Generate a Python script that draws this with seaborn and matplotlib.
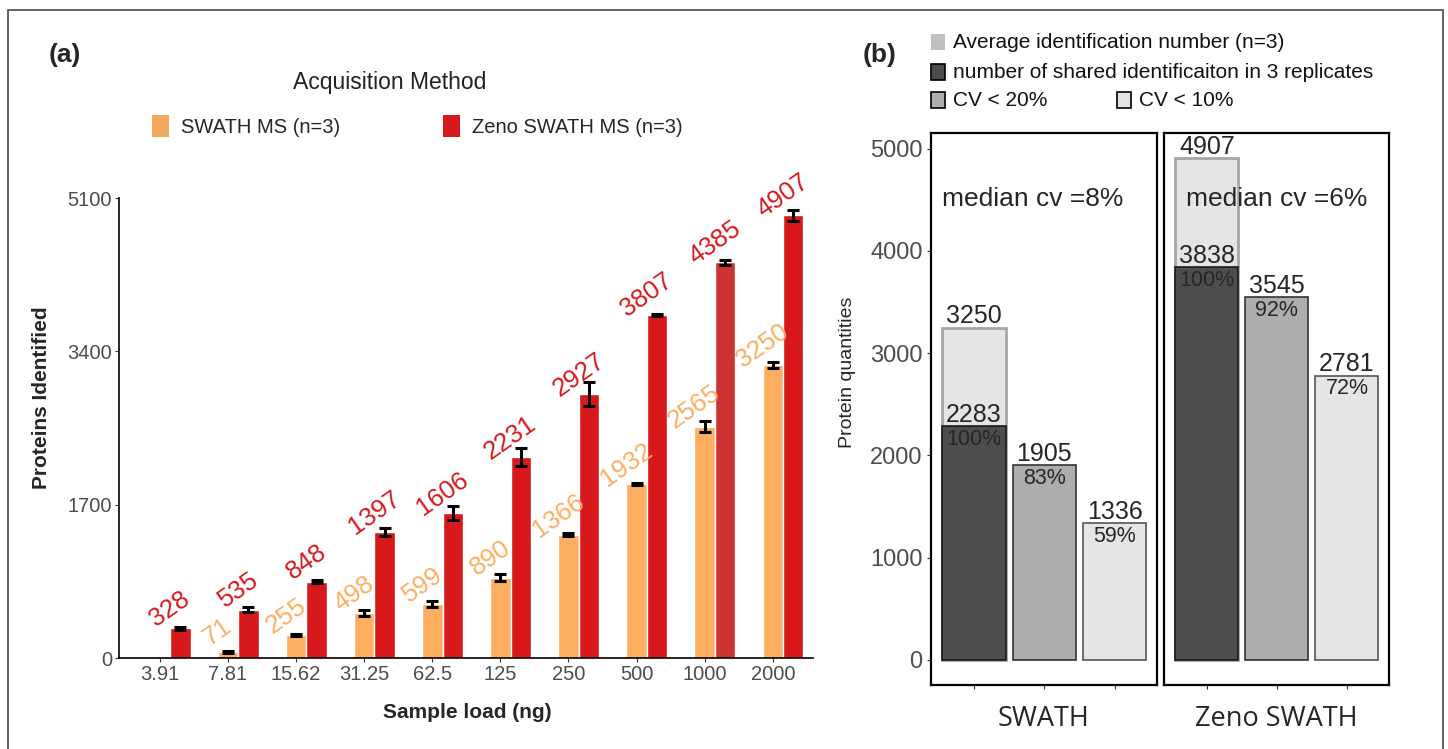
import pandas as pd
import numpy as np

import matplotlib
matplotlib.use("Agg")
import matplotlib.pyplot as plt
from matplotlib.patches import Rectangle, Patch
import seaborn as sns

sns.set_style("white")
plt.rcParams["font.family"] = ["Liberation Sans", "DejaVu Sans"]

# (a) identifications per sample load
loads = ["3.91", "7.81", "15.62", "31.25", "62.5", "125", "250", "500", "1000", "2000"]
swath_mean = [0, 71, 255, 498, 599, 890, 1366, 1932, 2565, 3250]
zeno_mean = [328, 535, 848, 1397, 1606, 2231, 2927, 3807, 4385, 4907]
swath_sd = [0, 12, 15, 37, 30, 37, 15, 10, 60, 37]
zeno_sd = [15, 28, 20, 46, 74, 100, 135, 10, 30, 60]
method_names = ["SWATH MS (n=3)", "Zeno SWATH MS (n=3)"]
y_ticks_a = [0, 1700, 3400, 5100]

# (b) quantified proteins
methods = ["SWATH", "Zeno SWATH"]
avg_ids = [3250, 4907]
shared_ids = [2283, 3838]
cv20_ids = [1905, 3545]
cv10_ids = [1336, 2781]
median_cv = [8, 6]
y_ticks_b = [0, 1000, 2000, 3000, 4000, 5000]

ORANGE = "#FDAE61"
RED = "#D7191C"
GRAY_TXT = "#4D4D4D"

fig = plt.figure(figsize=(14.48, 7.49), dpi=100)
W, H = 1448, 749

def px(x0, y0, x1, y1):
    # pixel box -> figure fraction rect
    return [x0 / W, (H - y1) / H, (x1 - x0) / W, (y1 - y0) / H]

# ---------- panel (a) ----------
ax = fig.add_axes(px(119, 198, 813, 658))
df = pd.DataFrame({
    "load": loads * 2,
    "value": swath_mean + zeno_mean,
    "method": [method_names[0]] * len(loads) + [method_names[1]] * len(loads),
})
sns.barplot(data=df, x="load", y="value", hue="method", order=loads,
            hue_order=method_names, palette=[ORANGE, RED], width=0.6,
            errorbar=None, saturation=1, legend=False, ax=ax)

# the 1000 ng Zeno bar is a slightly different red in the original
ax.containers[1][8].set_facecolor("#CD3333")

for cont, sds, col in [(ax.containers[0], swath_sd, ORANGE), (ax.containers[1], zeno_sd, RED)]:
    for bar, sd in zip(cont, sds):
        h = bar.get_height()
        xc = bar.get_x() + bar.get_width() / 2
        if h <= 0:
            continue
        ax.errorbar(xc, h, yerr=sd, color="black", lw=2.2, capsize=4.5, capthick=2.2, zorder=5)
        ax.text(xc - 0.15, h + 215, f"{h:.0f}", color=col, fontsize=18.5,
                rotation=35, ha="center", va="center", rotation_mode="anchor")

orange_centres = [b.get_x() + b.get_width() / 2 for b in ax.containers[0]]
ax.set_xticks(orange_centres)
ax.set_xticklabels(loads, fontsize=14.5, color=GRAY_TXT)
ax.set_yticks(y_ticks_a)
ax.set_yticklabels([str(t) for t in y_ticks_a], fontsize=14.5, color=GRAY_TXT)
ax.set_ylim(0, 5100)
ax.set_xlim(-0.75, 9.44)
ax.set_xlabel("")
ax.set_ylabel("")
sns.despine(ax=ax)
for s in ["left", "bottom"]:
    ax.spines[s].set_color("black")
    ax.spines[s].set_linewidth(1.2)
ax.tick_params(axis="both", length=3, width=0.8, color="#333333", pad=2, left=True, bottom=True)

fig.text(42 / W, 1 - 398 / H, "Proteins Identified", rotation=90, fontsize=15,
         fontweight="bold", ha="center", va="center")
fig.text(467 / W, 1 - 713 / H, "Sample load (ng)", fontsize=15,
         fontweight="bold", ha="center", va="center")
fig.text(65 / W, 1 - 55 / H, "(a)", fontsize=19, fontweight="bold", ha="center", va="center")
fig.text(390 / W, 1 - 82 / H, "Acquisition Method", fontsize=16.5, color="#222222",
         ha="center", va="center")
handles_a = [Patch(facecolor="#F4A961", edgecolor="none"), Patch(facecolor=RED, edgecolor="none")]
fig.legend(handles_a, method_names, ncol=2, frameon=False, fontsize=14.5,
           loc="center left", bbox_to_anchor=(134 / W, 1 - 126 / H),
           handlelength=0.85, handleheight=1.3, handletextpad=0.6, columnspacing=5.1)

# ---------- panel (b) ----------
cats = ["shared", "cv20", "cv10"]
face = {"shared": "#4D4D4D", "cv20": "#ADADAD", "cv10": "#E5E5E5"}
edge = {"shared": "#1A1A1A", "cv20": "#333333", "cv10": "#555555"}

axL = fig.add_axes(px(931, 133, 1157, 685))
axR = fig.add_axes(px(1164, 133, 1389, 685))

for i, axb in enumerate([axL, axR]):
    # average identification, drawn behind the shared bar
    sns.barplot(x=["shared"], y=[avg_ids[i]], order=cats, color="#E5E5E5",
                saturation=1, width=0.9, errorbar=None, ax=axb,
                edgecolor="#A6A6A6", linewidth=2)
    vals = [shared_ids[i], cv20_ids[i], cv10_ids[i]]
    sns.barplot(x=cats, y=vals, order=cats, hue=cats, hue_order=cats,
                palette=[face[c] for c in cats], saturation=1, width=0.9,
                errorbar=None, legend=False, ax=axb)
    bars = list(axb.containers[1]) + list(axb.containers[2]) + list(axb.containers[3])
    for bar, c in zip(bars, cats):
        bar.set_edgecolor(edge[c])
        bar.set_linewidth(1.2)
    avg_bar = axb.containers[0][0]
    axb.text(avg_bar.get_x() + avg_bar.get_width() / 2, avg_ids[i] - 5, f"{avg_ids[i]}",
             fontsize=18, ha="center", va="bottom")
    for bar, v in zip(bars, vals):
        xc = bar.get_x() + bar.get_width() / 2
        axb.text(xc, v - 5, f"{v}", fontsize=18, ha="center", va="bottom")
        pct = round(100 * v / shared_ids[i])
        axb.text(xc, v - 25, f"{pct}%", fontsize=15.5, ha="center", va="top")
    axb.text(-0.45 if i == 0 else -0.3, 4510, f"median cv ={median_cv[i]}%",
             fontsize=19, ha="left", va="center")
    axb.set_ylim(-245, 5152)
    axb.set_xlim(-0.61, 2.6)
    axb.set_xticks(range(len(cats)))
    axb.set_xticklabels([])
    axb.set_xlabel(methods[i], fontsize=19.5, family="Open Sans", labelpad=8)
    axb.set_ylabel("")
    for s in axb.spines.values():
        s.set_visible(True)
        s.set_color("black")
        s.set_linewidth(1.6)
    axb.tick_params(axis="x", length=3, width=0.8, color="#333333", bottom=True)
    if i == 0:
        axb.set_yticks(y_ticks_b)
        axb.set_yticklabels([str(t) for t in y_ticks_b], fontsize=17, color=GRAY_TXT)
        axb.tick_params(axis="y", length=3, width=0.8, color="#333333", left=True, pad=3)
    else:
        axb.set_yticks([])

fig.text(848 / W, 1 - 372 / H, "Protein quantities", rotation=90, fontsize=14,
         ha="center", va="center")
fig.text(880 / W, 1 - 55 / H, "(b)", fontsize=19, fontweight="bold", ha="center", va="center")

# legend of (b), drawn by hand to keep the 2 + 2 layout
leg_b = [
    (931, 42, "#C0C0C0", "none", "Average identification number (n=3)"),
    (931, 72, "#4D4D4D", "black", "number of shared identificaiton in 3 replicates"),
    (931, 100, "#ADADAD", "black", "CV < 20%"),
    (1117, 100, "#E5E5E5", "black", "CV < 10%"),
]
for x0, yc, fc, ec, lab in leg_b:
    fig.patches.append(Rectangle((x0 / W, 1 - (yc + 8) / H), 14 / W, 16 / H,
                                 transform=fig.transFigure, facecolor=fc,
                                 edgecolor=ec, lw=1.2))
    fig.text((x0 + 22) / W, 1 - yc / H, lab, fontsize=15, ha="left", va="center",
             color="#111111")

# outer frame
fig.patches.append(Rectangle((8 / W, -0.02), (1443 - 8) / W, 1.02 - 10 / H,
                             transform=fig.transFigure, fill=False,
                             edgecolor="#555555", lw=1.3))

fig.savefig("out.png", dpi=100)
